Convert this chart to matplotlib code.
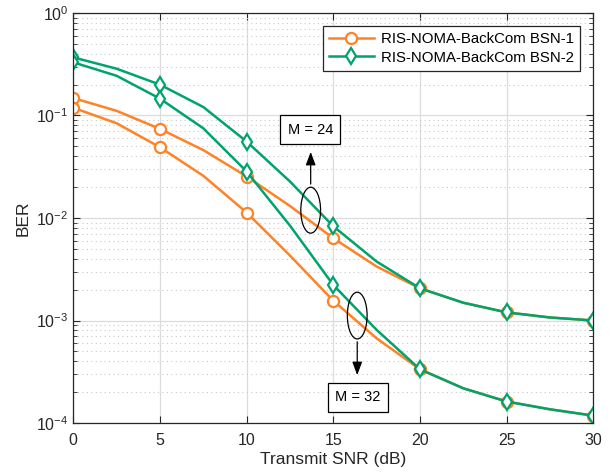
import numpy as np
import matplotlib
matplotlib.use("Agg")
import matplotlib.pyplot as plt
from matplotlib.patches import Ellipse

plt.rcParams['font.family'] = ['Liberation Sans', 'DejaVu Sans']
plt.rcParams['mathtext.fontset'] = 'custom'
plt.rcParams['mathtext.rm'] = 'Liberation Sans'

# ---- data (2.5 dB steps, markers every 5 dB) ----
snr_db = [0, 2.5, 5, 7.5, 10, 12.5, 15, 17.5, 20, 22.5, 25, 27.5, 30]

bsn1_m24 = [0.148, 0.111, 0.074, 0.046, 0.0254, 0.0131, 0.00635, 0.00336,
            0.00206, 0.00149, 0.0012, 0.00107, 0.001]
bsn1_m32 = [0.119, 0.084, 0.049, 0.0258, 0.0113, 0.0043, 0.00156, 0.00067,
            0.000334, 0.000218, 0.000162, 0.000136, 0.000118]
bsn2_m24 = [0.369, 0.286, 0.2, 0.121, 0.0557, 0.0227, 0.0083, 0.00376,
            0.00206, 0.00149, 0.0012, 0.00107, 0.001]
bsn2_m32 = [0.33, 0.244, 0.146, 0.075, 0.0284, 0.00843, 0.00222, 0.00081,
            0.000334, 0.000218, 0.000162, 0.000136, 0.000118]

labels = ["RIS-NOMA-BackCom BSN-1", "RIS-NOMA-BackCom BSN-2"]
c_orange = "#FF8226"
c_green = "#00A36C"

fig = plt.figure(figsize=(6.16, 4.76), dpi=100)
ax = fig.add_axes([73.3 / 616, 1 - 423 / 476, 520 / 616, 410 / 476])

style = dict(lw=1.8, markersize=8, markerfacecolor="white", markeredgewidth=1.6,
             markevery=2)

ax.semilogy(snr_db, bsn1_m24, color=c_orange, marker="o", label=labels[0], **style)
ax.semilogy(snr_db, bsn1_m32, color=c_orange, marker="o", **style)
ax.semilogy(snr_db, bsn2_m24, color=c_green, marker="d", label=labels[1], **style)
ax.semilogy(snr_db, bsn2_m32, color=c_green, marker="d", **style)

ax.set_xlim(0, 30)
ax.set_ylim(1e-4, 1)
ax.set_xticks([0, 5, 10, 15, 20, 25, 30])
ax.set_xlabel("Transmit SNR (dB)", fontsize=12.5, color="#262626", labelpad=3)
ax.set_ylabel("BER", fontsize=12.5, color="#262626", labelpad=4)

ax.grid(True, which="major", color="#dcdcdc", lw=0.9, ls="-")
ax.grid(True, which="minor", axis="y", color="#c8c8c8", lw=0.8, ls=(0, (1, 3)))
ax.tick_params(which="both", direction="in", top=True, right=True,
               colors="#262626", labelsize=11.5)
ax.tick_params(axis="x", pad=7)
ax.tick_params(which="major", length=5)
ax.tick_params(which="minor", length=3)
ax.tick_params(axis="x", which="minor", top=False, bottom=False)
for sp in ax.spines.values():
    sp.set_color("#262626")
    sp.set_linewidth(0.9)

leg = ax.legend(loc="upper right", bbox_to_anchor=(0.975, 0.968), borderaxespad=0,
                fontsize=10.8, fancybox=False, framealpha=1, edgecolor="#262626",
                handlelength=3.0, handletextpad=0.5, borderpad=0.4, labelspacing=0.3)
leg.get_frame().set_linewidth(0.9)

# annotations (axes fractions)
tr = ax.transAxes
ax.add_patch(Ellipse((0.4565, 0.519), 0.038, 0.112, transform=tr,
                     fill=False, ec="black", lw=0.9, zorder=5))
ax.annotate("", xy=(0.4565, 0.668), xytext=(0.4565, 0.576), xycoords=tr,
            textcoords=tr, arrowprops=dict(arrowstyle="-|>,head_length=0.8,head_width=0.3",
                                           color="black", lw=0.9))
ax.text(0.456, 0.7154, "M = 24", transform=tr, ha="center", va="center",
        fontsize=10.5, bbox=dict(boxstyle="square,pad=0.5", fc="white", ec="black", lw=0.9))

ax.add_patch(Ellipse((0.546, 0.262), 0.038, 0.114, transform=tr,
                     fill=False, ec="black", lw=0.9, zorder=5))
ax.annotate("", xy=(0.546, 0.11), xytext=(0.546, 0.205), xycoords=tr,
            textcoords=tr, arrowprops=dict(arrowstyle="-|>,head_length=0.8,head_width=0.3",
                                           color="black", lw=0.9))
ax.text(0.547, 0.0622, "M = 32", transform=tr, ha="center", va="center",
        fontsize=10.5, bbox=dict(boxstyle="square,pad=0.5", fc="white", ec="black", lw=0.9))

fig.savefig("out.png", dpi=100)
